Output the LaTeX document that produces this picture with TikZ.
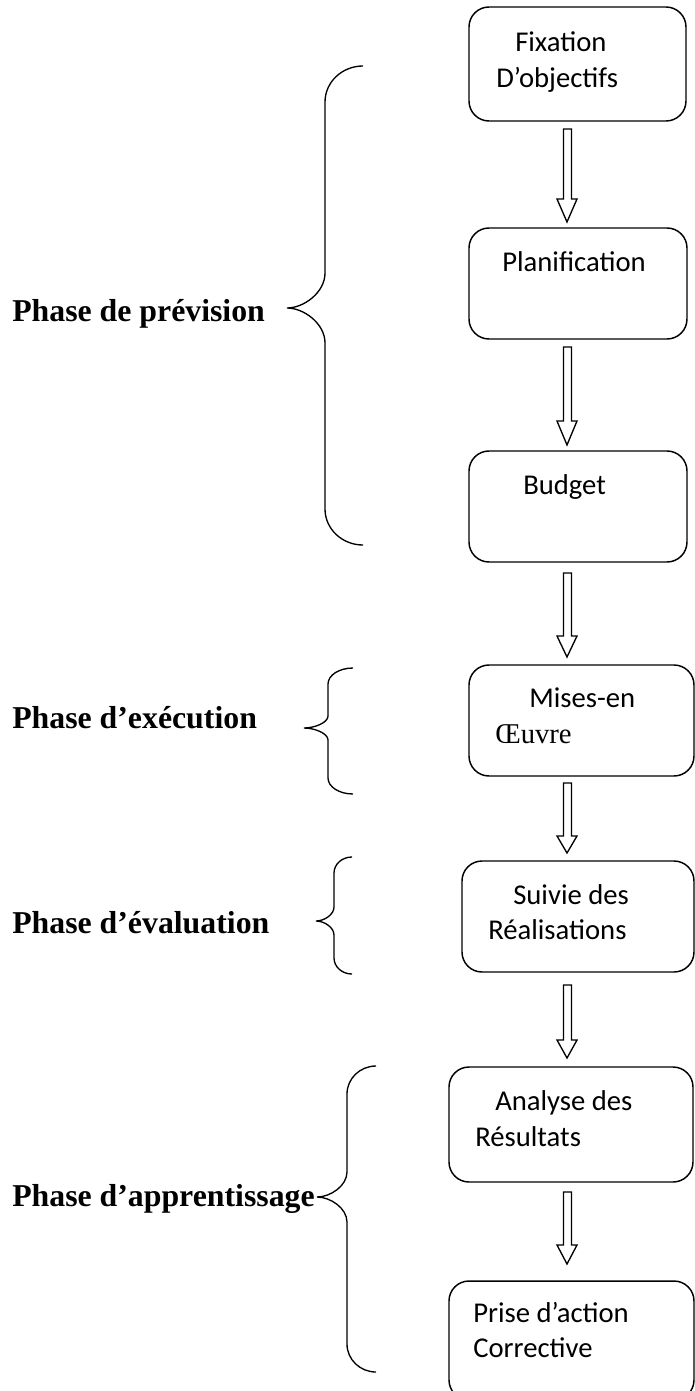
\documentclass[tikz,border=0pt]{standalone}
\usepackage{fontspec}
\setmainfont{Liberation Serif}
\newfontfamily\boxfont{Carlito}

% hollow block arrow: name, top of shaft, base of head, tip
\newcommand\hollowarrow[4]{%
  \draw[hollow] (563.5,#2) -- (571.5,#2) -- (571.5,#3) -- (577,#3) -- (567,#4)
    -- (557,#3) -- (563.5,#3) -- cycle;
  \coordinate (#1) at (567,#4);}

% left curly brace: end x, stem x, tip x, top y, tip y, bottom y, end radius, middle radius
\newcommand\phasebrace[8]{%
  \pgfmathsetmacro\bre{#2+0.448*(#1-#2)}%
  \pgfmathsetmacro\brt{#3+0.448*(#2-#3)}%
  \draw[brace] (#1,#4)
    .. controls (\bre,#4) and ({#2},{#4+0.448*#7}) .. ({#2},{#4+#7})
    -- ({#2},{#5-#8})
    .. controls ({#2},{#5-0.448*#8}) and (\brt,#5) .. (#3,#5)
    .. controls (\brt,#5) and ({#2},{#5+0.448*#8}) .. ({#2},{#5+#8})
    -- ({#2},{#6-#7})
    .. controls ({#2},{#6-0.448*#7}) and (\bre,#6) .. (#1,#6);}

\begin{document}
\begin{tikzpicture}[x=0.75pt,y=-0.75pt,
  stepbox/.style={draw, line width=1.1pt, rounded corners=15pt, rectangle, inner sep=0pt},
  boxtext/.style={anchor=base west, inner sep=0pt, font=\boxfont\fontsize{21.5}{26}\selectfont},
  phase/.style={anchor=base west, inner sep=0pt, font=\bfseries\fontsize{23.85}{28}\selectfont},
  brace/.style={draw, line width=1pt},
  hollow/.style={draw, line width=1pt, line join=miter}]
\useasboundingbox (0,0) rectangle (695,1391);

% process boxes
\node[stepbox, minimum width=162.75pt, minimum height=85.5pt]  (b1) at (577.5,64)    {};
\node[stepbox, minimum width=163.5pt,  minimum height=83.25pt] (b2) at (578,283.5)   {};
\node[stepbox, minimum width=163.5pt,  minimum height=83.25pt] (b3) at (578,506.5)   {};
\node[stepbox, minimum width=168.75pt, minimum height=83.25pt] (b4) at (581.5,720.5) {};
\node[stepbox, minimum width=174pt,    minimum height=83.25pt] (b5) at (578,916.5)   {};
\node[stepbox, minimum width=183pt,    minimum height=86.25pt] (b6) at (571,1124.5)  {};
\node[stepbox, minimum width=183.75pt, minimum height=89.25pt] (b7) at (571.5,1340.5) {};

% box texts
\node[boxtext] (t1a) at (515,52)   {Fixation};
\node[boxtext] (t1b) at (496,88)   {D’objectifs};
\node[boxtext] (t2)  at (502,271)  {Planification};
\node[boxtext] (t3)  at (523,494)  {Budget};
\node[boxtext] (t4a) at (529,707)  {Mises-en};
\node[boxtext] (t4b) at (495,743)  {\rmfamily Œuvre};
\node[boxtext] (t5a) at (513,904)  {Suivie des};
\node[boxtext] (t5b) at (488,939)  {Réalisations};
\node[boxtext] (t6a) at (495,1110) {Analyse des};
\node[boxtext] (t6b) at (475,1146) {Résultats};
\node[boxtext] (t7a) at (473,1322) {Prise d’action};
\node[boxtext] (t7b) at (473,1357) {Corrective};

% arrows between boxes
\hollowarrow{a1}{129}{199}{222}
\hollowarrow{a2}{347}{421}{445}
\hollowarrow{a3}{573}{636}{657}
\hollowarrow{a4}{783}{836}{853}
\hollowarrow{a5}{985}{1040}{1058}
\hollowarrow{a6}{1192}{1245}{1264}

% phase braces
\phasebrace{363}{325}{287}{66}{308}{545}{36}{35}
\phasebrace{353}{328}{304}{668}{728}{794}{16}{12}
\phasebrace{352}{334}{316}{857}{921}{974}{16}{14}
\phasebrace{376}{347}{317}{1066}{1197}{1372}{28}{25}

% phase labels
\node[phase] (lprev) at (12,321)  {Phase de prévision};
\node[phase] (lexec) at (12,728)  {Phase d’exécution};
\node[phase] (leval) at (12,933)  {Phase d’évaluation};
\node[phase] (lappr) at (12,1206) {Phase d’apprentissage};
\end{tikzpicture}
\end{document}
